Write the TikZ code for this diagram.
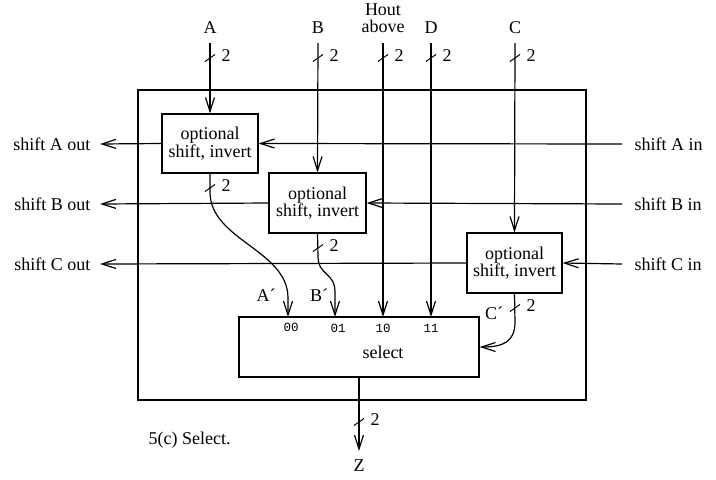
\documentclass[tikz,border=0pt]{standalone}
\usepackage{fontspec}
\setmainfont{Liberation Serif}
\setmonofont{Liberation Mono}
\usetikzlibrary{arrows.meta}
\begin{document}
\begin{tikzpicture}[x=1pt,y=-1pt,
  line width=1.2pt,
  every node/.style={font=\fontsize{18}{17.5}\selectfont},
  arr/.style={-{Straight Barb[length=14pt,width=9pt]}},
  blk/.style={draw,fill=white,align=center,inner sep=0pt},
  lbl/.style={inner sep=0pt},
  port/.style={inner sep=0pt,font=\fontsize{12.5}{12.5}\ttfamily},
  tick/.style={line width=1pt}]
\useasboundingbox (0,0) rectangle (716,480);
% outer box
\node[draw,minimum width=448pt,minimum height=310pt,inner sep=0pt] (outer) at (362,245) {};
% top labels
\node[lbl,anchor=base] (labA) at (210,33) {A};
\node[lbl,anchor=base] (labB) at (318,33) {B};
\node[lbl,anchor=south,align=center] (labH) at (383,33.5) {Hout\\above};
\node[lbl,anchor=base] (labD) at (431,33) {D};
\node[lbl,anchor=base] (labC) at (515,33) {C};
\coordinate (tA) at (210,43);
\coordinate (tB) at (318,43);
\coordinate (tH) at (383,43);
\coordinate (tD) at (431,43);
\coordinate (tC) at (515,43);
% blocks
\node[blk,minimum width=96pt,minimum height=59pt] (bA) at (210,143.5) {optional\\shift, invert};
\node[blk,minimum width=97pt,minimum height=60pt] (bB) at (317.5,203) {optional\\shift, invert};
\node[blk,minimum width=95pt,minimum height=60pt] (bC) at (514.5,263) {optional\\shift, invert};
\node[draw,minimum width=240pt,minimum height=60pt,inner sep=0pt] (sel) at (359,347) {};
\node[lbl] (seltxt) at (383,352) {select};
\node[port] (p00) at (291,327) {00};
\node[port] (p01) at (338,328) {01};
\node[port] (p10) at (383,328) {10};
\node[port] (p11) at (431,328) {11};
% side labels
\node[lbl,anchor=west] (inA) at (634,144) {shift A in};
\node[lbl,anchor=west] (inB) at (634,204) {shift B in};
\node[lbl,anchor=west] (inC) at (634,264) {shift C in};
\node[lbl,anchor=east] (outA) at (91,144) {shift A out};
\node[lbl,anchor=east] (outB) at (91,204) {shift B out};
\node[lbl,anchor=east] (outC) at (91,264) {shift C out};
\coordinate (rA) at (622,144);
\coordinate (rB) at (622,204);
\coordinate (rC) at (622,264);
\coordinate (lA) at (100,144);
\coordinate (lB) at (100,204);
\coordinate (lC) at (100,264);
% horizontal connectors
\draw[arr] (rA) -- (bA.east);
\draw[arr] (rB) -- (bB.east);
\draw[arr] (rC) -- (bC.east);
\draw[arr] (bA.west) -- (lA);
\draw[arr] (bB.west) -- (lB);
\draw[arr] (bC.west) -- (lC);
% vertical connectors
\draw[arr] (tA) -- (bA.north);
\draw[arr] (tB) -- (bB.north);
\draw[arr] (tC) -- (bC.north);
\draw[arr] (tH) -- (383,317);
\draw[arr] (tD) -- (431,317);
% curved connectors
\draw[arr] (bA.south) -- (210,192) .. controls (210,240) and (288,250) .. (288,298) -- (288,317);
\draw[arr] (bB.south) -- (318,256) .. controls (318,276) and (335,272) .. (335,292) -- (335,317);
\draw[arr] (bC.south) -- (515,322) .. controls (515,342) and (503,347) .. (sel.east);
\coordinate (zend) at (359,451);
\draw[arr] (sel.south) -- (zend);
\node[lbl,anchor=base] (labZ) at (359,471) {Z};
% primed labels
\node[lbl] (lAp) at (266,295) {A\char"00B4};
\node[lbl] (lBp) at (319,295) {B\char"00B4};
\node[lbl] (lCp) at (494,313) {C\char"00B4};
% width ticks
\foreach \x/\y in {210/58,318/58,383/58,431/58,515/58,210/188,318/248,515/308,359/422}{
  \draw[tick] (\x-5,\y+3.5) -- (\x+5,\y-3.5);
  \node[lbl] at (\x+16,\y-2) {2};
}
% caption
\node[lbl,anchor=base west] (cap) at (148,444) {5(c) Select.};
\end{tikzpicture}
\end{document}
